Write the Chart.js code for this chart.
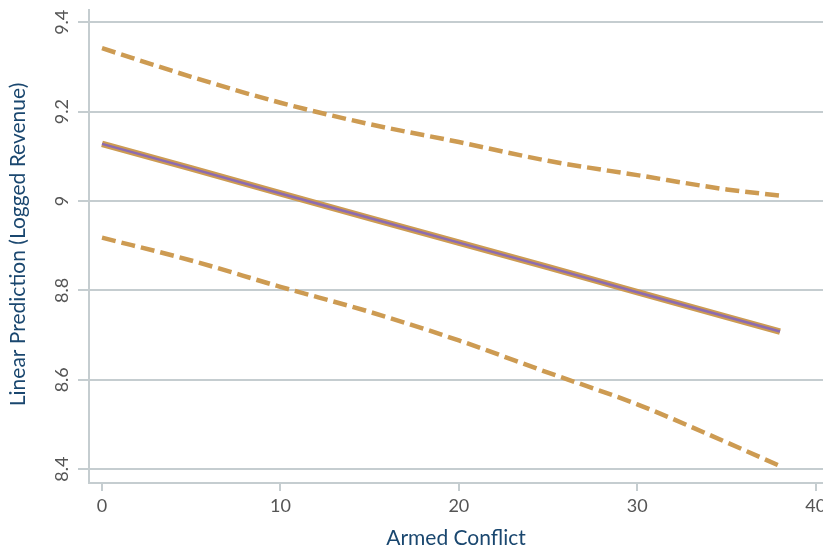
<!DOCTYPE html>
<html>
<head>
<meta charset="utf-8">
<script src="https://cdn.jsdelivr.net/npm/chart.js@4"></script>
<style>
  html, body { margin: 0; padding: 0; background: #fff; }
  #wrap { width: 823px; height: 551px; }
</style>
</head>
<body>
<div id="wrap"><canvas id="chart"></canvas></div>
<script>
// values
var conflict = [0, 5, 10, 15, 20, 25, 30, 35, 38];
var fitted = [9.128, 9.073, 9.017, 8.962, 8.907, 8.852, 8.796, 8.741, 8.708];
var upper = [9.342, 9.278, 9.220, 9.172, 9.132, 9.090, 9.058, 9.026, 9.012];
var lower = [8.918, 8.867, 8.808, 8.752, 8.688, 8.616, 8.545, 8.460, 8.407];
var xTicks = [0, 10, 20, 30, 40];
var yTicks = [8.4, 8.6, 8.8, 9, 9.2, 9.4];
var yTitle = "Linear Prediction (Logged Revenue)";
var xTitle = "Armed Conflict";

var gridColor = "#c5cdd0";
var lineOrange = "#cd9b52";
var linePurple = "#8c6bb1";
var titleColor = "#1a476f";
var tickColor = "#555555";

function pts(ys) {
  let out = [];
  for (let i = 0; i < conflict.length; i++) {
    out.push({x: conflict[i], y: ys[i]});
  }
  return out;
}

// y tick labels are vertical in the reference, so draw them here
var yLabels = {
  id: "yLabels",
  afterDraw(chart) {
    let c = chart.ctx;
    let ys = chart.scales.y;
    let area = chart.chartArea;
    c.save();
    c.fillStyle = tickColor;
    c.font = "18px Lato";
    c.textAlign = "center";
    c.textBaseline = "alphabetic";
    for (let i = 0; i < yTicks.length; i++) {
      let py = ys.getPixelForValue(yTicks[i]);
      c.save();
      c.translate(68, py);
      c.rotate(-Math.PI / 2);
      c.fillText(String(yTicks[i]), 0, 0);
      c.restore();
    }
    c.fillStyle = titleColor;
    c.font = "21px Lato";
    c.translate(25, (area.top + area.bottom) / 2 - 2);
    c.rotate(-Math.PI / 2);
    c.fillText(yTitle, 0, 0);
    c.restore();
  }
};

var ctx = document.getElementById("chart").getContext("2d");
var chart = new Chart(ctx, {
  type: "line",
  data: {
    datasets: [
      {
        data: pts(fitted),
        borderColor: linePurple,
        borderWidth: 2.5,
        pointRadius: 0,
        fill: false
      },
      {
        data: pts(fitted),
        borderColor: lineOrange,
        borderWidth: 6.5,
        pointRadius: 0,
        fill: false
      },
      {
        data: pts(upper),
        borderColor: lineOrange,
        borderWidth: 4.5,
        borderDash: [14, 6],
        cubicInterpolationMode: "monotone",
        pointRadius: 0,
        fill: false
      },
      {
        data: pts(lower),
        borderColor: lineOrange,
        borderWidth: 4.5,
        borderDash: [14, 6],
        cubicInterpolationMode: "monotone",
        pointRadius: 0,
        fill: false
      }
    ]
  },
  options: {
    responsive: true,
    maintainAspectRatio: false,
    animation: false,
    layout: { padding: { top: 10, right: 0, bottom: 0, left: 0 } },
    plugins: {
      legend: { display: false },
      tooltip: { enabled: false }
    },
    scales: {
      x: {
        type: "linear",
        min: -0.73,
        max: 40.41,
        afterBuildTicks: function(s) {
          s.ticks = xTicks.map(v => ({value: v}));
        },
        afterFit: function(s) {
          s.height = 68;
          s.paddingLeft = 0;
          s.paddingRight = 0;
        },
        grid: {
          drawOnChartArea: false,
          drawTicks: true,
          tickLength: 8,
          color: gridColor,
          lineWidth: 2
        },
        border: { display: true, color: gridColor, width: 2 },
        ticks: {
          color: tickColor,
          font: { family: "Lato", size: 18 },
          padding: 4,
          maxRotation: 0,
          callback: v => String(v)
        },
        title: {
          display: true,
          text: xTitle,
          color: titleColor,
          font: { family: "Lato", size: 21 },
          padding: { top: 0, bottom: 0 }
        }
      },
      y: {
        type: "linear",
        min: 8.369,
        max: 9.4275,
        afterBuildTicks: function(s) {
          s.ticks = yTicks.map(v => ({value: v}));
        },
        afterFit: function(s) {
          s.width = 89;
          s.paddingTop = 0;
          s.paddingBottom = 0;
        },
        grid: {
          drawTicks: true,
          tickLength: 11,
          color: gridColor,
          lineWidth: 2
        },
        border: { display: true, color: gridColor, width: 2 },
        ticks: { display: false }
      }
    }
  },
  plugins: [yLabels]
});
</script>
</body>
</html>
